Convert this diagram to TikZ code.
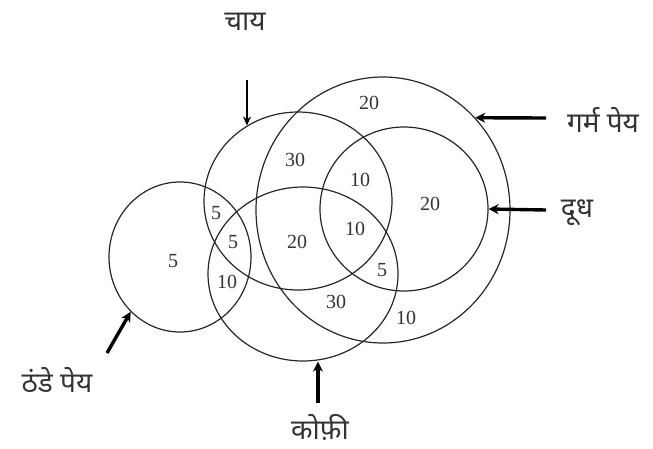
\documentclass[tikz,border=0pt]{standalone}
\usepackage{fontspec}
\setmainfont{Liberation Serif}
\newfontfamily\deva[Script=Devanagari]{Noto Sans}
\usetikzlibrary{shapes.geometric,arrows.meta}
\begin{document}
\begin{tikzpicture}[x=1pt,y=-1pt,
  set/.style={draw=black!85, ellipse, inner sep=0pt, line width=1.2pt},
  num/.style={font=\fontsize{20}{20}\selectfont, text=black!80, inner sep=0pt},
  lab/.style={font=\deva\fontsize{28}{32}\selectfont, text=black!80, inner sep=0pt},
  ptr/.style={line width=3.4pt, -{Stealth[length=10pt,width=10pt]}},
  thinptr/.style={line width=2pt, -{Stealth[length=9pt,width=8pt]}}]
\useasboundingbox (0,0) rectangle (653,448);
% sets
\node[set, minimum width=142pt, minimum height=150pt] (cold) at (180,257) {};
\node[set, minimum width=188pt, minimum height=178pt] (tea) at (298,201) {};
\node[set, minimum width=254pt, minimum height=266pt] (hot) at (383,210) {};
\node[set, minimum width=168pt, minimum height=164pt] (milk) at (404,209) {};
\node[set, minimum width=190pt, minimum height=174pt] (coffee) at (303,274) {};
% numbers
\node[num] (n1) at (369,103) {20};
\node[num] (n2) at (295,160) {30};
\node[num] (n3) at (360,180) {10};
\node[num] (n4) at (430,204) {20};
\node[num] (n5) at (173,261) {5};
\node[num] (n6) at (216,213) {5};
\node[num] (n7) at (233,242) {5};
\node[num] (n8) at (297,242) {20};
\node[num] (n9) at (355,229) {10};
\node[num] (n10) at (227,282) {10};
\node[num] (n11) at (382,270) {5};
\node[num] (n12) at (336,302) {30};
\node[num] (n13) at (406,318) {10};
% labels
\node[lab] (lchai) at (245,22) {चाय};
\node[lab] (lhot) at (603,120) {गर्म पेय};
\node[lab] (lmilk) at (577,213) {दूध};
\node[lab] (lcold) at (57,380) {ठंडे पेय};
\node[lab] (lcoffee) at (320,427) {कोफ़ी};
% arrows
\coordinate (a1) at (247,80);
\coordinate (a2) at (546,118);
\coordinate (a3) at (546,210);
\coordinate (a4) at (107,353);
\coordinate (a5) at (318,403);
\draw[thinptr] (a1) -- (a1 |- tea.124);
\draw[ptr] (a2) -- (hot.45);
\draw[ptr] (a3) -- (milk.0);
\draw[ptr] (a4) -- (cold.228);
\draw[ptr] (a5) -- (a5 |- coffee.south);
\end{tikzpicture}
\end{document}
